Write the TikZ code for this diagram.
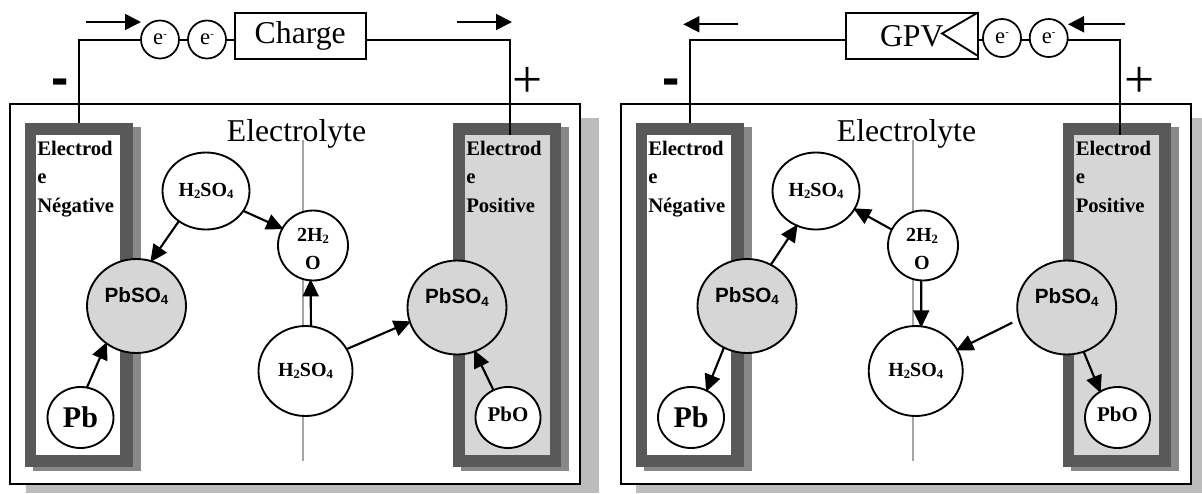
\documentclass[tikz,border=0pt]{standalone}
\usepackage{fontspec}
\setmainfont{Liberation Serif}
\newfontfamily\arialf{Liberation Sans}
\usetikzlibrary{arrows.meta,shapes.geometric}
\newcommand{\fsz}[1]{\fontsize{#1}{#1}\selectfont}
\newcommand{\subt}[1]{\raisebox{-1.6pt}{\fsz{9.5}#1}}
\newcommand{\hso}{H\subt{2}SO\subt{4}}
\newcommand{\pbs}{PbSO\raisebox{-1.6pt}{\fsz{10}4}}
\newcommand{\elec}{e\raisebox{5.5pt}{\fsz{8}-}}
\definecolor{elecdark}{HTML}{595959}
\definecolor{elecshadow}{HTML}{888888}
\definecolor{boxshadow}{HTML}{BCBCBC}
\definecolor{lightfill}{HTML}{D6D6D6}
\def\px{0.75pt}
\tikzset{
  x=0.75pt,y=-0.75pt,
  oval/.style 2 args={ellipse,draw=black,line width=1.4pt,fill=white,inner sep=0pt,outer sep=0pt,
    minimum width=2*#1*\px,minimum height=2*#2*\px},
  chem/.style={font=\bfseries\fsz{15}},
  pbsofill/.style={oval={49.5}{47},fill=lightfill},
  pbslabel/.style={label={[font=\arialf\bfseries\fsz{15.5},yshift=7.5pt,inner sep=0pt]center:\pbs}},
  react/.style={line width=1.6pt,-{Triangle[length=13pt,width=12pt]},shorten >=-1pt},
  flow/.style={line width=1.3pt,-{Triangle[length=12pt,width=12pt]}},
  wire/.style={line width=1.5pt},
  ebox/.style={oval={19}{19},line width=1.3pt,font=\fsz{17}},
  device/.style={draw=black,line width=1.5pt,fill=white,inner sep=0pt,outer sep=0pt,font=\fsz{23.8}},
  frameb/.style={draw=black,line width=1.5pt,fill=white},
  elecb/.style={fill=elecdark,inner sep=0pt,outer sep=0pt,minimum width=108*\px,minimum height=344*\px},
  elecs/.style={fill=elecshadow,inner sep=0pt,outer sep=0pt,minimum width=108*\px,minimum height=344*\px},
  innerw/.style={fill=white,inner sep=0pt,minimum width=84.5*\px,minimum height=320*\px},
  innerg/.style={fill=lightfill,inner sep=0pt,minimum width=84.5*\px,minimum height=320*\px},
  etext/.style={font=\bfseries\fsz{15.5},anchor=base west,inner sep=0pt},
  axisl/.style={draw=black!35,line width=1.5pt},
  title/.style={font=\fsz{23.8},inner sep=0pt},
  minussign/.style={font=\arialf\bfseries\fsz{39},anchor=base,inner sep=0pt},
  plussign/.style={font=\fsz{40},anchor=base,inner sep=0pt},
}
\begin{document}
\begin{tikzpicture}
\useasboundingbox (0,0) rectangle (1202,493);
% ---------- left panel ----------
\fill[boxshadow] (26,118) rectangle (599,493);
\path[frameb] (9.5,104) rectangle (580,483.5);
\node[elecs] (sN) at (86.5,299) {};
\node[elecb] (eN) at (78.5,295) {};
\node[innerw] (iN) at (78,295) {};
\node[elecs] (sP) at (515,299) {};
\node[elecb] (eP) at (507,295) {};
\node[innerg] (iP) at (507.5,295) {};
\foreach \yy/\tt in {155/Electrod,183/e,212/Négative}{\node[etext] (n\yy) at (37,\yy) {\tt};}
\foreach \yy/\tt in {155/Electrod,183/e,212/Positive}{\node[etext] (p\yy) at (466,\yy) {\tt};}
\coordinate (axT) at (303,140); \coordinate (axB) at (303,461);
\draw[axisl] (axT) -- (axB);
\node[title] (elyte) at (296.5,134) {Electrolyte};
\node[oval={43.5}{38.5},chem] (Ht) at (206,191) {\hso};
\node[oval={35}{35},chem,align=center] (W) at (313,245.5) {};
\node[chem,inner sep=0pt] (Wa) at (313,236) {2H\subt{2}};
\node[chem,inner sep=0pt] (Wb) at (313,263) {O};
\node[oval={47}{45},chem] (Hb) at (305.5,371) {\hso};
\node[pbsofill,pbslabel] (PL) at (136.5,306) {};
\node[pbsofill,pbslabel] (PR) at (457,307.5) {};
\node[oval={33}{30.5},font=\bfseries\fsz{22.5}] (Pb) at (80.5,417.5) {Pb};
\node[oval={32.5}{30.5},font=\bfseries\fsz{15.7}] (PbO) at (508,417.5) {\raisebox{5pt}{PbO}};
\draw[react] (Ht.228) -- (PL.72);
\draw[react] (Ht.-28) -- (W.151);
\draw[react] (Pb.78) -- (PL.231);
\draw[react] (Hb.83) -- (W.266);
\draw[react] (Hb.28) -- (PR.197);
\draw[react] (PbO.118) -- (PR.292);
\node[ebox] (e1) at (160,39.5) {\elec};
\node[ebox] (e2) at (207,39.5) {\elec};
\node[device,minimum width=131.5*\px,minimum height=46.5*\px] (load) at (300.25,35.75) {Charge};
\coordinate (lN) at (79,123); \coordinate (lP) at (510,135);
\coordinate (lbW) at (234.5,39.5); \coordinate (lbE) at (366,39.5);
\draw[wire] (lN) |- (e1.west);
\draw[wire] (e1.east) -- (e2.west);
\draw[wire] (e2.east) -- (lbW);
\draw[wire] (lbE) -| (lP);
\coordinate (a1s) at (86,22); \coordinate (a1e) at (141,22);
\coordinate (a2s) at (457,22); \coordinate (a2e) at (512,22);
\draw[flow] (a1s) -- (a1e);
\draw[flow] (a2s) -- (a2e);
\node[minussign] (mL) at (60,95.5) {-};
\node[plussign] (pL) at (528,97) {+};
% ---------- right panel ----------
\fill[boxshadow] (636,118) rectangle (1202,493);
\path[frameb] (620.5,104) rectangle (1191,483.5);
\node[elecs] (sN2) at (697.5,299) {};
\node[elecb] (eN2) at (689.5,295) {};
\node[innerw] (iN2) at (689,295) {};
\node[elecs] (sP2) at (1124.5,299) {};
\node[elecb] (eP2) at (1116.5,295) {};
\node[innerg] (iP2) at (1116.5,295) {};
\foreach \yy/\tt in {155/Electrod,183/e,212/Négative}{\node[etext] (nn\yy) at (648,\yy) {\tt};}
\foreach \yy/\tt in {155/Electrod,183/e,212/Positive}{\node[etext] (pp\yy) at (1075.5,\yy) {\tt};}
\coordinate (axT2) at (913,140); \coordinate (axB2) at (913,461);
\draw[axisl] (axT2) -- (axB2);
\node[title] (elyte2) at (906.5,134) {Electrolyte};
\node[oval={43.5}{38.5},chem] (Ht2) at (816,191) {\hso};
\node[oval={35}{35},chem] (W2) at (923,245.5) {};
\node[chem,inner sep=0pt] (Wa2) at (922,236) {2H\subt{2}};
\node[chem,inner sep=0pt] (Wb2) at (922,263) {O};
\node[oval={47}{45},chem] (Hb2) at (915.7,371) {\hso};
\node[pbsofill,pbslabel] (PL2) at (747,306) {};
\node[pbsofill,pbslabel] (PR2) at (1066.7,307.5) {};
\node[oval={33}{30.5},font=\bfseries\fsz{22.5}] (Pb2) at (691,417.5) {Pb};
\node[oval={32.5}{30.5},font=\bfseries\fsz{15.7}] (PbO2) at (1117.5,417.5) {\raisebox{5pt}{PbO}};
\draw[react] (PL2.60) -- (Ht2.241);
\draw[react] (W2.153) -- (Ht2.-25);
\draw[react] (PL2.241) -- (Pb2.60);
\draw[react] (W2.267) -- (Hb2.83);
\draw[react,shorten <=5.5pt] (PR2.194) -- (Hb2.27);
\draw[react] (PR2.291) -- (PbO2.124);
\node[device,minimum width=132.5*\px,minimum height=46.5*\px,text width=120*\px,align=left] (gpv) at (912,35.75) {\hspace*{21pt}GPV};
\coordinate (t1) at (978,12.5); \coordinate (t2) at (942,33.5); \coordinate (t3) at (978,56);
\draw[line width=1.4pt] (t1) -- (t2) -- (t3);
\node[ebox] (e3) at (1002,38) {\elec};
\node[ebox] (e4) at (1048.7,38) {\elec};
\coordinate (lN2) at (690,123); \coordinate (lP2) at (1120,135);
\coordinate (gW) at (845.7,39.5); \coordinate (gE) at (978,39.5);
\coordinate (e3W) at (983,39.5); \coordinate (e3E) at (1021,39.5);
\coordinate (e4W) at (1029.7,39.5); \coordinate (e4E) at (1067.7,39.5);
\draw[wire] (lN2) |- (gW);
\draw[wire] (gE) -- (e3W);
\draw[wire] (e3E) -- (e4W);
\draw[wire] (e4E) -| (lP2);
\coordinate (a3s) at (738.3,24.3); \coordinate (a3e) at (683.3,24.3);
\coordinate (a4s) at (1125,24.3); \coordinate (a4e) at (1068,24.3);
\draw[flow] (a3s) -- (a3e);
\draw[flow] (a4s) -- (a4e);
\node[minussign] (mR) at (671,95.5) {-};
\node[plussign] (pR) at (1139.7,97) {+};
\end{tikzpicture}
\end{document}
